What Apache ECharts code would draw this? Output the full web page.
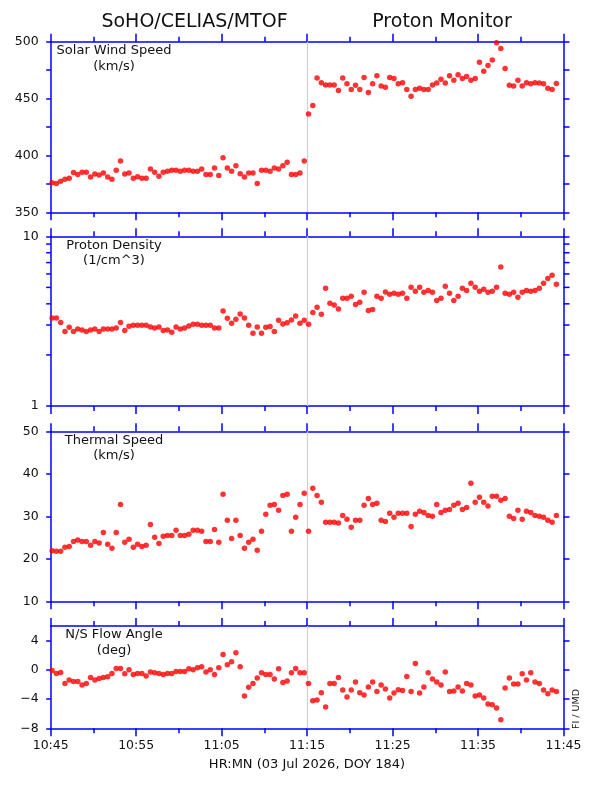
<!DOCTYPE html>
<html><head><meta charset="utf-8">
<script src="https://cdn.jsdelivr.net/npm/echarts@6/dist/echarts.min.js"></script>
<style>html,body{margin:0;padding:0;background:#fff}#c{width:596px;height:788px}</style>
</head><body><div id="c"></div>
<script>
// ---- data ----
const times = [
 '10:45:10','10:45:40','10:46:10','10:46:40','10:47:10','10:47:40','10:48:10','10:48:40','10:49:10','10:49:40',
 '10:50:10','10:50:40','10:51:10','10:51:40','10:52:10','10:52:40','10:53:10','10:53:40','10:54:10','10:54:40',
 '10:55:10','10:55:40','10:56:10','10:56:40','10:57:10','10:57:40','10:58:10','10:58:40','10:59:10','10:59:40',
 '11:00:10','11:00:40','11:01:10','11:01:40','11:02:10','11:02:40','11:03:10','11:03:40','11:04:10','11:04:40',
 '11:05:10','11:05:40','11:06:10','11:06:40','11:07:10','11:07:40','11:08:10','11:08:40','11:09:10','11:09:40',
 '11:10:10','11:10:40','11:11:10','11:11:40','11:12:10','11:12:40','11:13:10','11:13:40','11:14:10','11:14:40',
 '11:15:10','11:15:40','11:16:10','11:16:40','11:17:10','11:17:40','11:18:10','11:18:40','11:19:10','11:19:40',
 '11:20:10','11:20:40','11:21:10','11:21:40','11:22:10','11:22:40','11:23:10','11:23:40','11:24:10','11:24:40',
 '11:25:10','11:25:40','11:26:10','11:26:40','11:27:10','11:27:40','11:28:10','11:28:40','11:29:10','11:29:40',
 '11:30:10','11:30:40','11:31:10','11:31:40','11:32:10','11:32:40','11:33:10','11:33:40','11:34:10','11:34:40',
 '11:35:10','11:35:40','11:36:10','11:36:40','11:37:10','11:37:40','11:38:10','11:38:40','11:39:10','11:39:40',
 '11:40:10','11:40:40','11:41:10','11:41:40','11:42:10','11:42:40','11:43:10','11:43:40','11:44:10'
];
const speed = [
 376,375.4,377.4,379,380,385,383.3,385.3,385.3,381,
 383.6,382.7,384.5,381,379,387,395,383.6,384.5,380,
 381.2,380,380,388,385.3,381.8,385.3,386.2,387,387,
 386.2,387,387,386,386,388,383.3,383.3,389,382.4,
 398,389,386,391,384,381,384.5,384.5,375.4,387,
 387,386,389,388,391,394,383.3,383.3,384.5,395,
 436.4,444,468,464,462,462,462,457,468,463,
 458,461.6,458,468.5,455.4,463,470,461,460,468.5,
 467.7,463,464,458,452,458,459,458,458,462,
 463.6,467,463.6,470,466,471,467.7,469.5,466,467.7,
 482,474,479,484,499,494,476.5,461.6,461,466,
 461,464,463,464,463.6,463,459,458,463.3
];
const density = [
 3.30,3.30,3.11,2.75,2.91,2.75,2.84,2.80,2.75,2.80,
 2.84,2.75,2.84,2.84,2.84,2.88,3.11,2.79,2.95,2.99,
 2.99,2.99,2.99,2.92,2.88,2.92,2.79,2.80,2.72,2.92,
 2.84,2.88,2.96,3.03,3.03,2.99,2.99,2.99,2.88,2.88,
 3.63,3.29,3.07,3.24,3.48,3.30,2.99,2.68,2.92,2.68,
 2.91,2.94,2.75,3.20,3.04,3.09,3.21,3.39,3.07,3.20,
 3.03,3.56,3.82,3.47,4.94,4.03,3.94,3.73,4.31,4.31,
 4.43,3.97,4.08,4.68,3.66,3.71,4.43,4.31,4.70,4.55,
 4.61,4.55,4.61,4.31,5.01,4.74,5.01,4.68,4.80,4.68,
 4.19,4.31,5.08,4.61,4.19,4.43,4.94,4.80,5.28,5.01,
 4.74,4.87,4.68,4.74,5.01,6.60,4.61,4.55,4.68,4.37,
 4.68,4.80,4.74,4.80,4.94,5.28,5.65,5.89,5.21
];
const thermal = [
 21.9,21.8,21.8,22.7,22.9,24.1,24.4,24.1,24.1,23.2,
 24.1,23.7,26.2,23.4,22.5,26.2,32.8,23.9,24.6,22.7,
 23.4,22.9,23.2,28.1,25.1,23.6,25.3,25.5,25.5,26.7,
 25.5,25.5,25.8,26.7,26.7,26.5,24.1,24.1,26.9,23.9,
 35.2,29.1,24.8,29.1,25.5,22.5,23.9,24.6,22.0,26.5,
 30.5,32.6,32.8,31.4,34.9,35.2,26.5,29.8,32.8,35.4,
 26.5,36.6,34.9,33.3,28.6,28.6,28.6,28.4,30.2,29.3,
 27.4,29.1,29.1,32.6,34.2,32.8,33.1,29.1,28.8,30.7,
 29.8,30.7,30.7,30.7,27.6,30.5,31.2,30.9,30.2,30.0,
 32.8,30.9,31.4,31.6,32.6,33.1,31.6,32.1,37.8,33.3,
 34.5,33.3,32.4,34.7,34.7,33.8,34.2,30.0,29.5,31.4,
 29.3,31.2,30.9,30.2,30.0,29.8,29.1,28.6,30.2
];
const flowAngle = [
 -0.09,-0.50,-0.37,-1.88,-1.38,-1.61,-1.61,-2.06,-1.88,-1.06,
 -1.38,-1.19,-1.06,-0.96,-0.50,0.18,0.18,-0.55,0.0,-0.64,
 -0.50,-0.50,-0.83,-0.28,-0.41,-0.50,-0.64,-0.50,-0.50,-0.23,
 -0.23,-0.23,0.14,0.0,0.28,0.41,-0.28,0.0,-0.64,0.28,
 2.11,0.69,1.10,2.34,0.41,-3.58,-2.39,-1.88,-1.10,-0.41,
 -0.64,-0.64,-1.24,0.14,-1.74,-1.51,-0.41,0.18,-0.41,-0.41,
 -1.88,-4.22,-4.13,-3.12,-5.09,-1.88,-1.88,-1.06,-2.75,-3.72,
 -2.75,-1.65,-3.12,-3.44,-2.34,-1.65,-2.98,-2.06,-2.61,-3.85,
 -3.17,-2.71,-2.84,-0.92,-2.98,0.87,-3.17,-2.34,-0.41,-1.24,
 -1.65,-2.06,-0.28,-2.98,-2.89,-2.34,-2.89,-1.88,-2.06,-3.58,
 -3.44,-3.85,-4.68,-4.77,-5.23,-6.83,-2.48,-1.10,-1.93,-1.93,
 -0.55,-1.38,-0.41,-1.65,-1.88,-2.75,-3.26,-2.75,-2.98
];
const xTickLabels = ['10:45','10:55','11:05','11:15','11:25','11:35','11:45'];
const startTime = '10:45:00';
const endTime = '11:45:00';
const boundaryTime = '11:15:00';
const densityMinorTicks = [2,3,4,5,6,7,8,9];
const flowTicks = [-8,-4,0,4];
const panelTitles = [['Solar Wind Speed','(km/s)'],['Proton Density','(1/cm^3)'],['Thermal Speed','(km/s)'],['N/S Flow Angle','(deg)']];

// ---- helpers ----
function toSec(t){const p=t.split(':').map(Number);return p[0]*3600+p[1]*60+p[2];}
const t0 = toSec(startTime);
function rel(t){return toSec(t)-t0;}
const xMax = rel(endTime);
const BLUE = '#0000ff';
const FONT = 'DejaVu Sans';
const TXT = '#111';

const panels = [
  {top:41.7, height:170.6},
  {top:236.3, height:169.7},
  {top:431.3, height:170},
  {top:626, height:102.3}
];
const grid = panels.map(p => ({left:50.7, right:32.5, top:p.top, height:p.height}));

const xAxis = [];
panels.forEach((p,i) => {
  ['bottom','top'].forEach(pos => {
    xAxis.push({
      type:'value', gridIndex:i, position:pos, min:0, max:xMax, interval:600,
      axisLine:{show:true, onZero:false, lineStyle:{color:BLUE, width:1.5}},
      axisTick:{show:true, inside:false, length:8, lineStyle:{color:BLUE, width:1.5}},
      minorTick:{show:true, splitNumber:2, length:5, lineStyle:{color:BLUE, width:1.5}},
      splitLine:{show:false}, minorSplitLine:{show:false},
      axisLabel:{show:(i===3 && pos==='bottom'), margin:11, fontFamily:FONT, fontSize:12.5, color:TXT,
        formatter: v => { const k = Math.round(v/600); return Math.abs(v-k*600)<1e-6 ? (xTickLabels[k]||'') : ''; }}
    });
  });
});

function fmtNum(v){ return v<0 ? '\u2212'+Math.abs(v) : String(v); }
const yDefs = [
  {type:'value', min:350, max:500, interval:25, fmt: v => (v%50===0 ? String(v) : '')},
  {type:'log', logBase:10, min:1, max:10, fmt: v => String(v)},
  {type:'value', min:10, max:50, interval:10, fmt: v => String(v)},
  {type:'value', min:-8, max:6, interval:4, fmt: v => fmtNum(v), custom:flowTicks}
];
const yAxis = [];
yDefs.forEach((d,i) => {
  ['left','right'].forEach(pos => {
    const ax = {
      type:d.type, gridIndex:i, position:pos, min:d.min, max:d.max,
      axisLine:{show:true, onZero:false, lineStyle:{color:BLUE, width:1.5}},
      axisTick:{show:true, inside:false, length:(pos==='left'?4.5:6), lineStyle:{color:BLUE, width:1.5}},
      splitLine:{show:false},
      axisLabel:{show:pos==='left', margin:12, fontFamily:FONT, fontSize:12.5, color:TXT, formatter:d.fmt}
    };
    if (d.interval) ax.interval = d.interval;
    if (d.logBase) ax.logBase = d.logBase;
    if (d.custom) { ax.axisTick.customValues = d.custom; ax.axisLabel.customValues = d.custom; }
    yAxis.push(ax);
  });
});

const seriesData = [speed, density, thermal, flowAngle];
const series = seriesData.map((vals,i) => ({
  type:'scatter', xAxisIndex:2*i, yAxisIndex:2*i, symbol:'circle', symbolSize:5.5,
  itemStyle:{color:'#ff0000'}, silent:true, z:3,
  data: times.map((t,k) => [rel(t), vals[k]]),
  markLine:{silent:true, symbol:'none', z:1, label:{show:false}, animation:false,
    lineStyle:{color:'#d0d0d0', width:1.2, type:'solid'}, data:[{xAxis:rel(boundaryTime)}]}
}));
series.push({
  type:'custom', xAxisIndex:2, yAxisIndex:2, clip:false, silent:true, z:4,
  data: densityMinorTicks.map(v => [0, v]),
  renderItem: function(params, api){
    const v = api.value(1);
    const a = api.coord([0, v]);
    const b = api.coord([xMax, v]);
    return {type:'group', children:[
      {type:'line', shape:{x1:a[0]-4.5, y1:a[1], x2:a[0], y2:a[1]}, style:{stroke:BLUE, lineWidth:1.5}},
      {type:'line', shape:{x1:b[0], y1:b[1], x2:b[0]+6, y2:b[1]}, style:{stroke:BLUE, lineWidth:1.5}}
    ]};
  }
});

const graphic = [
  {type:'text', x:194.5, y:22, style:{text:'SoHO/CELIAS/MTOF', font:'19px "DejaVu Sans"', fill:TXT, textAlign:'center', textVerticalAlign:'middle'}},
  {type:'text', x:442, y:22, style:{text:'Proton Monitor', font:'19px "DejaVu Sans"', fill:TXT, textAlign:'center', textVerticalAlign:'middle'}},
  {type:'text', x:307, y:765, style:{text:'HR:MN (03 Jul 2026, DOY 184)', font:'13px "DejaVu Sans"', fill:TXT, textAlign:'center', textVerticalAlign:'middle'}},
  {type:'text', x:577, y:709, rotation:Math.PI/2, style:{text:'FI / UMD', font:'9.5px "DejaVu Sans"', fill:TXT, textAlign:'center', textVerticalAlign:'middle'}}
];
panels.forEach((p,i) => {
  graphic.push({type:'text', x:114, y:p.top+9, style:{text:panelTitles[i][0], font:'13px "DejaVu Sans"', fill:TXT, textAlign:'center', textVerticalAlign:'middle'}});
  graphic.push({type:'text', x:114, y:p.top+24.5, style:{text:panelTitles[i][1], font:'13px "DejaVu Sans"', fill:TXT, textAlign:'center', textVerticalAlign:'middle'}});
});

const chart = echarts.init(document.getElementById('c'), null, {renderer:'canvas'});
chart.setOption({
  backgroundColor:'#ffffff', animation:false,
  grid, xAxis, yAxis, series, graphic
});
</script></body></html>
